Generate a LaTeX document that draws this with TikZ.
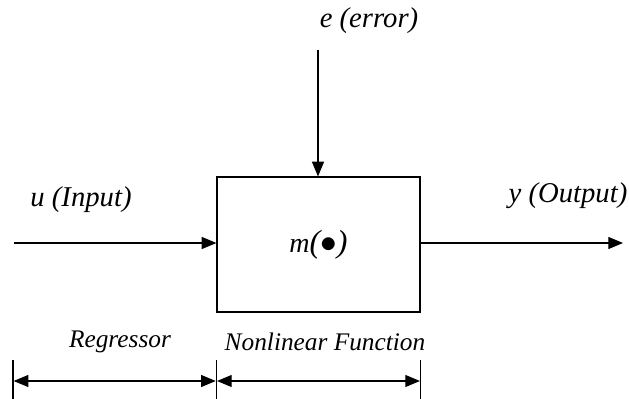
\documentclass[tikz,border=0pt]{standalone}
\usepackage{fontspec}
\setmainfont{Liberation Serif}
\usetikzlibrary{positioning}
\usetikzlibrary{arrows.meta}

\tikzset{
  block/.style={draw, line width=0.9pt, minimum width=152.25pt, minimum height=101.25pt, inner sep=0pt},
  sig/.style={line width=0.8pt, -{Triangle[length=11pt, width=9pt]}},
  span/.style={line width=0.8pt, {Triangle[length=11pt, width=9pt]}-{Triangle[length=11pt, width=9pt]}, shorten <=0.5pt, shorten >=0.5pt},
  tick/.style={line width=0.9pt},
  lbl/.style={font=\itshape\fontsize{21.5}{24}\selectfont, inner sep=1pt},
  spanlbl/.style={font=\itshape\fontsize{19}{22}\selectfont, inner sep=1pt},
}

\begin{document}
\begin{tikzpicture}[x=0.75pt, y=-0.75pt]
  \useasboundingbox (0,0) rectangle (629,399);

  % the model block
  \node[block] (model) at (318.5,244.5)
    {\itshape\fontsize{21}{24}\selectfont m\fontsize{24}{26}\selectfont($\bullet$)};

  % signals in and out
  \coordinate (u_in) at (14,243);
  \coordinate (y_out) at (623,243);
  \coordinate (e_in) at (318,50);
  \draw[sig] (u_in) -- (model.west |- u_in);
  \draw[sig] (model.east |- y_out) -- (y_out);
  \draw[sig] (e_in) -- (model.north -| e_in);

  \node[lbl] (u_lbl) at (81,200) {u (Input)};
  \node[lbl] (y_lbl) at (568,196) {y (Output)};
  \node[lbl] (e_lbl) at (369,21) {e (error)};

  % extent markers underneath
  \coordinate (reg_top) at (13,360);
  \coordinate (reg_bot) at (13,399);
  \coordinate (mid_top) at (model.west |- reg_top);
  \coordinate (mid_bot) at (model.west |- reg_bot);
  \coordinate (fun_top) at (model.east |- reg_top);
  \coordinate (fun_bot) at (model.east |- reg_bot);
  \draw[tick] (reg_top) -- (reg_bot);
  \draw[tick] (mid_top) -- (mid_bot);
  \draw[tick] (fun_top) -- (fun_bot);

  \coordinate (reg_l) at (13,381);
  \coordinate (reg_r) at (model.west |- reg_l);
  \coordinate (fun_r) at (model.east |- reg_l);
  \draw[span] (reg_l) -- (reg_r);
  \draw[span] (reg_r) -- (fun_r);

  \node[spanlbl] (reg_lbl) at (120,342) {Regressor};
  \node[spanlbl] (fun_lbl) at (325,342) {Nonlinear Function};
\end{tikzpicture}
\end{document}
